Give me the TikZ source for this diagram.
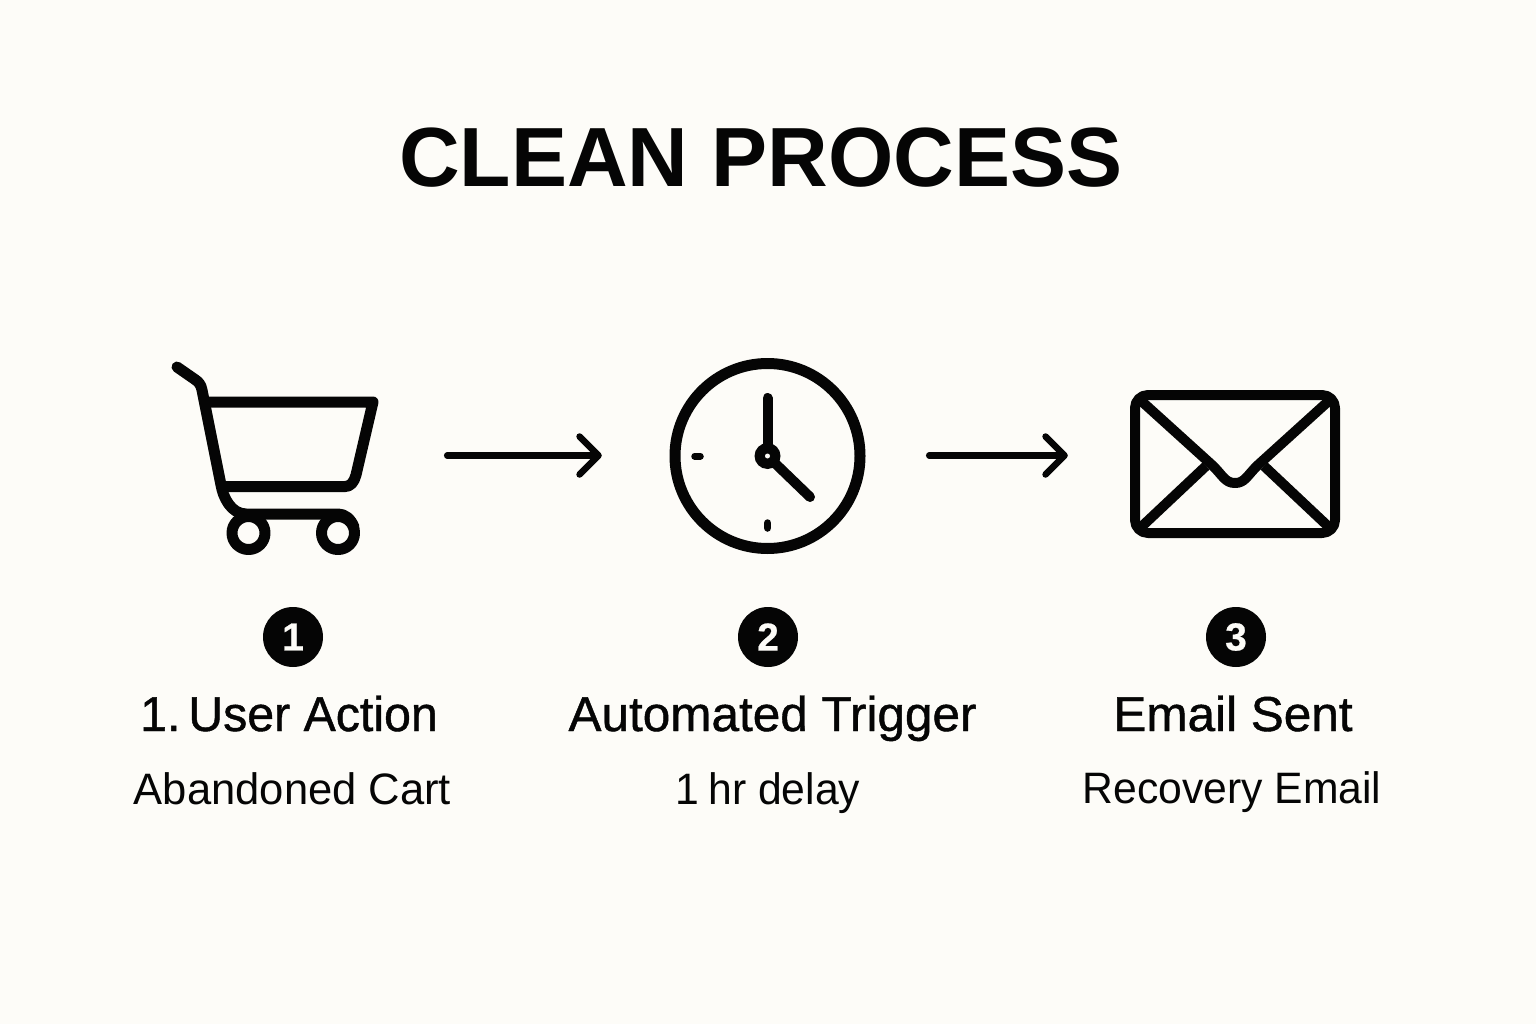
\documentclass[tikz,border=0pt]{standalone}
\usepackage{fontspec}
\setmainfont{Liberation Sans}
\usetikzlibrary{arrows.meta,calc}
\definecolor{paper}{HTML}{FDFCF8}
\definecolor{ink}{HTML}{050505}
\newfontfamily\headfont[FakeBold=0.9,FakeStretch=1.01]{Liberation Sans}
\newfontfamily\headnarrow[FakeBold=0.9,FakeStretch=0.985]{Liberation Sans}
\newfontfamily\subfont[FakeStretch=0.97]{Liberation Sans}
\newfontfamily\subwide[FakeStretch=0.99]{Liberation Sans}
\newfontfamily\badgefont[BoldFeatures={FakeBold=0.6}]{Liberation Sans}
\tikzset{
  icon/.style={draw=ink,line width=11pt,line cap=round,line join=round},
  slot/.style={inner sep=0pt,minimum height=60pt},
  flow/.style={draw=ink,line width=6.5pt,line cap=round,-{Straight Barb[length=19pt,width=38pt,line width=6.5pt,round]}},
  badge/.style={circle,fill=ink,text=paper,inner sep=0pt,minimum size=60pt,font=\badgefont\bfseries\fontsize{39}{39}\selectfont},
  headtext/.style={text=ink,inner sep=0pt,anchor=base,font=\headfont\fontsize{49}{52}\selectfont},
  subtext/.style={text=ink,inner sep=0pt,anchor=base,font=\subfont\fontsize{44}{48}\selectfont},
  titletext/.style={text=ink,inner sep=0pt,anchor=base,font=\bfseries\fontsize{84}{90}\selectfont},
}
\begin{document}
\begin{tikzpicture}[x=1pt,y=-1pt]
\useasboundingbox (0,0) rectangle (1536,1024);
\fill[paper] (0,0) rectangle (1536,1024);
\node[titletext] (title) at (761,187) {CLEAN PROCESS};

% invisible slots that the arrows run between
\node[slot,minimum width=310pt] (cart) at (292,455.5) {};
\node[slot,minimum width=327pt] (clock) at (765.5,455.5) {};
\node[slot,minimum width=332pt] (mail) at (1234,455.5) {};
\draw[flow] (cart) -- (clock);
\draw[flow] (clock) -- (mail);

% cart
\draw[icon] (177,367) -- (195,379.5) .. controls (199,382) and (201,385) .. (202,390) -- (221,485)
  .. controls (223,497) and (231,514) .. (246,514) -- (338,514) .. controls (345,514) and (351,519) .. (354,527);
\draw[icon] (207,402) -- (373,402) -- (356,475) .. controls (354,482) and (351,486.7) .. (344,486.7) -- (226,486.7);
\draw[icon] (248.5,533) circle (16.5);
\draw[icon] (338,533) circle (16.5);

% clock
\draw[icon,line cap=butt] (767.5,456) circle (92.5);
\draw[icon,line width=10pt] (767.5,456) -- (767.5,398);
\draw[icon,line width=10pt] (767.5,456) -- (810,497);
\fill[ink] (767.5,456) circle (13);
\fill[paper] (767.5,456) circle (2.5);
\draw[icon,line width=6.5pt] (694.5,456.3) -- (700.5,456.3);
\draw[icon,line width=7.5pt] (767.7,523) -- (767.7,528);

% envelope
\draw[icon,line width=10pt] (1135,395) [rounded corners=13pt] rectangle (1335,533);
\draw[icon,line width=10pt,line cap=butt] (1138,398) -- (1212,465) .. controls (1223,475.5) and (1225,483) .. (1235,483)
  .. controls (1245,483) and (1247,475.5) .. (1258,465) -- (1332,398);
\draw[icon,line width=10pt,line cap=butt] (1138,530) -- (1206,466);
\draw[icon,line width=10pt,line cap=butt] (1264,466) -- (1332,530);

% badges
\node[badge] (b1) at (293,637) {1};
\node[badge] (b2) at (768,637) {2};
\node[badge] (b3) at (1236,637) {3};

% labels
\node[headtext,font=\headnarrow\fontsize{49}{52}\selectfont] (h1) at (289,731) {1.\kern-10pt{} User Action};
\node[headtext] (h2) at (772.5,731) {Automated Trigger};
\node[headtext] (h3) at (1233,731) {Email Sent};
\node[subtext,font=\subwide\fontsize{44}{48}\selectfont] (s1) at (292.5,804) {Abandoned Cart};
\node[subtext] (s2) at (768,804) {1\kern-3pt{} hr delay};
\node[subtext] (s3) at (1232,803) {Recovery Email};
\end{tikzpicture}
\end{document}
